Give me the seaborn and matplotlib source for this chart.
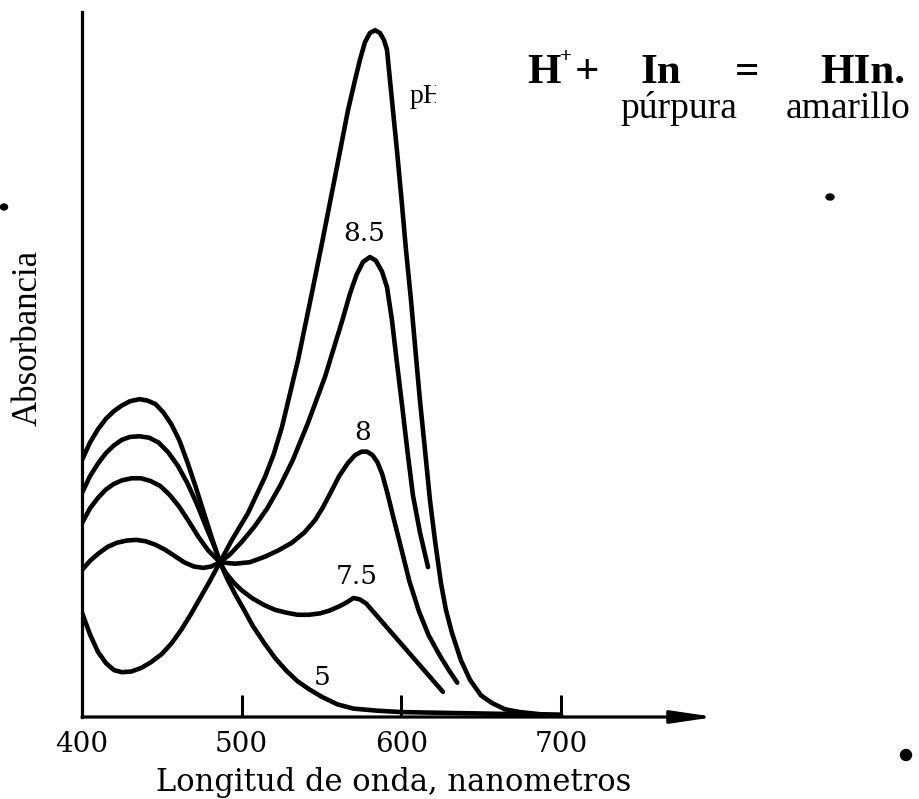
import numpy as np
import pandas as pd
import matplotlib
matplotlib.use("Agg")
import matplotlib.pyplot as plt
import seaborn as sns
from matplotlib.patches import Rectangle, Ellipse

# ---------------- data ----------------
# wavelength (nm) / absorbance (arbitrary units, axis top ~1.0)
ph5_nm = [400, 405, 410, 415, 420, 425, 430, 436, 441, 446, 451, 456, 461, 466,
          471, 476, 481, 486.4, 491, 496, 501, 507, 514, 521, 528, 535, 542,
          550, 560, 570, 585, 600, 650, 700]
ph5_abs = [0.367, 0.392, 0.411, 0.426, 0.437, 0.445, 0.451, 0.454, 0.452, 0.447,
           0.435, 0.418, 0.395, 0.364, 0.330, 0.294, 0.258, 0.221, 0.197, 0.175,
           0.155, 0.130, 0.106, 0.084, 0.066, 0.051, 0.040, 0.029, 0.018, 0.012,
           0.009, 0.007, 0.005, 0.003]

ph75_nm = [400, 405, 410, 415, 420, 425, 430, 436, 442, 448, 454, 460, 466, 472,
           478, 483, 486.4, 490, 495, 500, 507, 514, 521, 528, 535, 542, 549,
           555, 561, 566, 570, 574, 578, 626]
ph75_abs = [0.320, 0.344, 0.362, 0.377, 0.388, 0.396, 0.400, 0.401, 0.399, 0.392,
            0.378, 0.359, 0.334, 0.304, 0.270, 0.243, 0.221, 0.206, 0.192, 0.181,
            0.169, 0.160, 0.153, 0.149, 0.146, 0.146, 0.148, 0.152, 0.158, 0.164,
            0.170, 0.168, 0.162, 0.036]

ph8_nm = [400, 405, 410, 415, 420, 425, 431, 437, 443, 449, 455, 461, 467, 473,
          479, 486.4, 495.8, 505, 514.6, 523, 531.5, 539, 545.9, 551, 556.5, 561,
          566.6, 571, 575, 578.5, 582, 585, 588, 591, 595, 600, 605, 611, 617,
          624, 630, 635]
ph8_abs = [0.277, 0.298, 0.313, 0.325, 0.333, 0.338, 0.341, 0.341, 0.337, 0.330,
           0.317, 0.300, 0.279, 0.257, 0.238, 0.221, 0.219, 0.221, 0.229, 0.238,
           0.249, 0.263, 0.281, 0.300, 0.324, 0.344, 0.363, 0.374, 0.379, 0.379,
           0.374, 0.364, 0.347, 0.322, 0.285, 0.240, 0.194, 0.151, 0.117, 0.088,
           0.066, 0.049]

ph85_nm = [400, 405, 410, 416, 422, 428, 434, 440, 446, 452, 458, 464, 470, 476,
           481, 486.4, 493, 500, 508, 516, 524, 532, 541.5, 552.2, 562.8, 568,
           572, 576.0, 580.3, 584.0, 587.9, 591.0, 594.1, 597.0, 600.4, 604.1,
           607.3, 611.7, 616.7]
ph85_abs = [0.210, 0.223, 0.233, 0.243, 0.249, 0.252, 0.253, 0.251, 0.246, 0.239,
            0.230, 0.221, 0.215, 0.213, 0.215, 0.221, 0.233, 0.250, 0.272, 0.298,
            0.330, 0.367, 0.420, 0.486, 0.565, 0.606, 0.632, 0.650, 0.657, 0.652,
            0.636, 0.614, 0.567, 0.510, 0.446, 0.374, 0.316, 0.263, 0.214]

ph9_nm = [400, 405, 410, 415, 420, 425, 431, 437, 443, 450, 456, 462, 468, 474,
          480, 486.4, 493.9, 503.9, 514.6, 520.0, 525.2, 535.3, 544.0, 550.3,
          558.4, 566.6, 571.0, 574.1, 577.2, 580.3, 583.5, 586.6, 589.1, 591.0,
          594.1, 597.2, 600.1, 602.9, 606.0, 608.8, 611.6, 614.8, 617.9, 621.0,
          624.8, 627.9, 631.7, 637.3, 643.0, 649.8, 656.7, 664.9, 674.3, 686.8,
          699.3]
ph9_abs = [0.149, 0.118, 0.093, 0.077, 0.067, 0.064, 0.065, 0.070, 0.078, 0.090,
           0.105, 0.124, 0.146, 0.170, 0.194, 0.221, 0.253, 0.291, 0.343, 0.375,
           0.414, 0.510, 0.606, 0.677, 0.771, 0.867, 0.910, 0.939, 0.964, 0.977,
           0.981, 0.977, 0.967, 0.953, 0.881, 0.810, 0.739, 0.667, 0.596, 0.524,
           0.453, 0.381, 0.310, 0.253, 0.191, 0.153, 0.120, 0.081, 0.053, 0.031,
           0.020, 0.011, 0.007, 0.004, 0.003]

curve_names = ["5", "7.5", "8", "8.5", "pH"]
xtick_values = [400, 500, 600, 700]
xtick_labels = ["400", "500", "600", "700"]

# ---------------- build table ----------------
frames = []
for name, xs, ys in zip(curve_names,
                        [ph5_nm, ph75_nm, ph8_nm, ph85_nm, ph9_nm],
                        [ph5_abs, ph75_abs, ph8_abs, ph85_abs, ph9_abs]):
    frames.append(pd.DataFrame({"nm": xs, "A": ys, "curva": name}))
df = pd.concat(frames, ignore_index=True)

sns.set_style("white")
plt.rcParams["font.family"] = ["DejaVu Serif", "DejaVu Sans"]
plt.rcParams["text.color"] = "black"
plt.rcParams["axes.labelcolor"] = "black"
plt.rcParams["xtick.color"] = "black"

W, H = 919, 799
fig = plt.figure(figsize=(W / 100, H / 100), dpi=100)
ax = fig.add_axes([82 / W, (H - 717) / H, 633 / W, 705 / H])

sns.lineplot(data=df, x="nm", y="A", units="curva", estimator=None, sort=False,
             color="black", linewidth=3.3, ax=ax, legend=False,
             solid_capstyle="round", solid_joinstyle="round")

ax.set_xlim(400, 796.4)
ax.set_ylim(0, 1.007)

for s in ["top", "right", "bottom"]:
    ax.spines[s].set_visible(False)
ax.spines["left"].set_linewidth(2.3)
ax.spines["left"].set_color("black")

# x axis with arrow
ax.annotate("", xy=(796.4, 0), xytext=(400, 0), xycoords="data",
            arrowprops=dict(arrowstyle="-|>,head_length=2.6,head_width=0.38",
                            color="black", lw=2.3, mutation_scale=10,
                            shrinkA=0, shrinkB=0),
            annotation_clip=False)

ax.set_yticks([])
ax.set_xticks(xtick_values)
ax.set_xticklabels(xtick_labels)
ax.tick_params(axis="x", direction="in", length=16, width=2.2, pad=10,
               labelsize=20, colors="black", bottom=True)
ax.xaxis.get_major_ticks()[0].tick1line.set_visible(False)

ax.set_xlabel("Longitud de onda, nanometros", fontsize=22, va="baseline")
ax.xaxis.set_label_coords(0.493, (717 - 791) / 705)
ax.set_ylabel("Absorbancia", fontsize=25, family=["Liberation Serif"],
              va="center")
ax.yaxis.set_label_coords(-0.0853, 0.538)

# curve labels
lab_kw = dict(fontsize=19, ha="center", va="center", color="black")
ax.text(576.6, 0.690, "8.5", **lab_kw)
ax.text(576.0, 0.407, "8", **lab_kw)
ax.text(572.2, 0.201, "7.5", **lab_kw)
ax.text(550.3, 0.056, "5", **lab_kw)
t = ax.text(605.4, 0.877, "pH", fontsize=20, family=["Liberation Serif"],
            ha="left", va="baseline")
clip = Rectangle((600, 0.8), 21.7, 0.15, transform=ax.transData)
t.set_clip_path(clip)
t.set_clip_on(True)

# equation
def ftext(x, y, s, **kw):
    fig.text(x / W, 1 - y / H, s, **kw)

eq = dict(fontsize=31, fontweight="bold", family=["Liberation Serif"],
          va="baseline", ha="left")
ftext(527, 83, "H", **eq)
ftext(560, 62, "+", fontsize=15, fontweight="bold",
      family=["Liberation Serif"], va="baseline", ha="left")
ftext(575, 83, "+", **eq)
ftext(640, 83, "In", **eq)
ftext(735, 83, "=", **eq)
ftext(820, 83, "HIn.", **eq)
sub = dict(fontsize=27, family=["Liberation Serif"], va="baseline", ha="left")
ftext(620, 118, "púrpura", **sub)
ftext(786, 118, "amarillo", **sub)

# scan specks
for (cx, cy, w, h) in [(4, 207, 7, 6), (830, 197, 8, 6), (906, 755, 11, 11)]:
    fig.patches.append(Ellipse((cx / W, 1 - cy / H), w / W, h / H,
                               transform=fig.transFigure, color="black"))

fig.savefig("out.png", dpi=100)
